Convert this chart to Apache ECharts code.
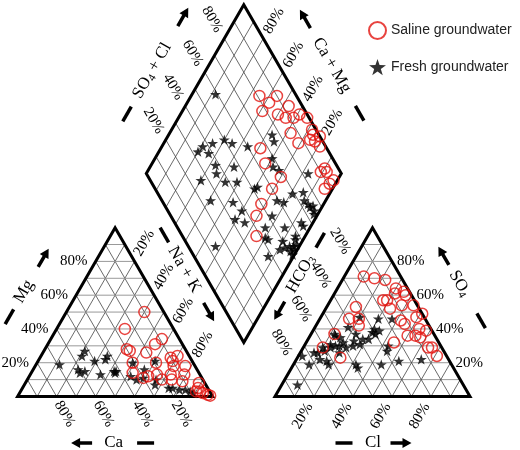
<!DOCTYPE html>
<html><head><meta charset="utf-8">
<script src="https://cdn.jsdelivr.net/npm/echarts@6/dist/echarts.min.js"></script>
<style>html,body{margin:0;padding:0;background:#fff}#c{width:520px;height:450px}</style>
</head><body><div id="c"></div>
<script>
// ---------------- data ----------------
const tickPercents = [20, 40, 60, 80];
const legendNames = ['Saline groundwater', 'Fresh groundwater'];
// cation triangle: [Ca %, Mg %]  (Na + K = remainder)
const cationSaline = [[10,50],[25,40],[9,34],[14,31],[30,28],[29,27],[21,26],[6,24],[10,23],[31,20],[19,20],[10,21],[11,18],[5,18],[34,14],[30,11],[27,12],[22,13],[21,10],[15,13],[8,13],[16,10],[11,9],[3,8],[5,5],[5,3],[4,2],[2,1],[1,0.5],[7,3]];
const cationFresh = [[69,19],[55,24],[52,27],[61,16],[58,15],[61,14],[50,21],[42,24],[44,22],[51,13],[43,15],[42,15],[43,14],[36,12],[27,16],[31,20],[30,11],[26,7],[19,21],[20,5],[18,5],[15,4],[12,4],[10,3],[9,2],[24,10],[34,10]];
// anion triangle: [Cl %, SO4 %]  (HCO3 = remainder)
const anionSaline = [[10,71],[16,70],[22,69],[30,64],[35,62],[31,61],[37,60],[27,57],[29,57],[33,52],[38,54],[44,54],[15,53],[51,49],[49,47],[20,46],[15,46],[22,42],[42,45],[45,43],[54,40],[58,39],[50,36],[54,36],[57,35],[12,37],[45,32],[64,29],[66,29],[71,24],[10,29],[22,23]];
const anionFresh = [[20,47],[30,46],[37,46],[31,40],[34,39],[31,38],[33,37],[17,41],[23,37],[28,34],[24,33],[31,34],[13,36],[16,35],[13,31],[16,30],[18,30],[22,29],[25,30],[28,31],[14,29],[12,27],[9,26],[7,26],[12,22],[16,21],[18,19],[8,19],[2,24],[32,19],[34,17],[45,19],[44,27],[43,30],[53,21],[64,22],[8,7],[20,26],[19,32],[12,37],[10,29]];
// diamond: [SO4 + Cl %, Ca + Mg %]
const diamondSaline = [[81,65],[84,58],[90,56],[78,59],[85,50],[93,47],[88,45],[92,41],[96,39],[99,34],[86,38],[98,28],[97,26],[100,22],[94,26],[96,23],[97,19],[87,31],[66,49],[64,42],[68,30],[60,31],[93,10],[90,11],[93,8],[94,2],[91,3],[87,4],[50,32],[44,31],[38,25]];
const diamondFresh = [[59,88],[76,47],[75,44],[50,70],[53,65],[60,56],[37,79],[43,75],[33,80],[38,74],[38,67],[36,64],[47,57],[69,40],[67,37],[69,33],[26,70],[38,57],[44,51],[83,17],[51,40],[53,39],[25,59],[36,47],[59,25],[62,21],[69,19],[75,14],[73,11],[74,8],[76,5],[75,3],[38,40],[32,41],[36,35],[52,23],[65,6],[65,4],[55,13],[45,23],[14,43],[74,2],[74,6],[42,20],[43,18],[50,10],[58,5],[57,4],[46,9],[49,7],[52,5],[54,3],[56,2],[53,2],[51,3],[51,1],[38,13]];

// ---------------- geometry ----------------
const K = Math.sqrt(3) / 2;
const GAP = 32;            // gap between triangles (units, side = 100)
const S = 1.95;            // px per unit
const X0 = 17.6, YBASE = 396.5;
const XMAX = 200 + GAP, YMAX = (200 + GAP) * K;

const catXY = ([ca, mg]) => [100 - ca - mg + mg / 2, mg * K];
const anXY = ([cl, so4]) => [100 + GAP + cl + so4 / 2, so4 * K];
const diaXY = ([s, c]) => [100 + GAP / 2 + 0.5 * (s - c), GAP * K + K * (s + c)];

const SERIF = '"Liberation Serif", "Times New Roman", serif';
const RED = '#e2140f';

function starPath() {
  const pts = [];
  for (let i = 0; i < 10; i++) {
    const r = i % 2 === 0 ? 50 : 19.5;
    const a = -Math.PI / 2 + i * Math.PI / 5;
    pts.push((50 + r * Math.cos(a)).toFixed(2) + ',' + (50 + r * Math.sin(a)).toFixed(2));
  }
  return 'path://M' + pts.join('L') + 'Z';
}

function renderDecor(params, api) {
  const P = d => api.coord(d);
  const ch = [];
  const seg = (a, b, stroke, w) => {
    const p = P(a), q = P(b);
    ch.push({ type: 'line', shape: { x1: p[0], y1: p[1], x2: q[0], y2: q[1] }, style: { stroke, lineWidth: w } });
  };
  const DARK = '#444', LIGHT = '#999';
  for (let i = 1; i <= 9; i++) {
    const p = i * 10;
    // cation
    seg(catXY([100 - p, p]), catXY([0, p]), LIGHT, 1);
    seg(catXY([p, 0]), catXY([p, 100 - p]), DARK, 0.8);
    seg(catXY([100 - p, 0]), catXY([0, 100 - p]), DARK, 0.8);
    // anion
    seg(anXY([0, p]), anXY([100 - p, p]), LIGHT, 1);
    seg(anXY([p, 0]), anXY([p, 100 - p]), DARK, 0.8);
    seg(anXY([100 - p, 0]), anXY([0, 100 - p]), DARK, 0.8);
    // diamond
    seg(diaXY([p, 0]), diaXY([p, 100]), DARK, 0.8);
    seg(diaXY([0, p]), diaXY([100, p]), DARK, 0.8);
  }
  const poly = pts => ch.push({ type: 'polygon', shape: { points: pts.map(P) },
    style: { fill: 'none', stroke: '#000', lineWidth: 3, lineJoin: 'miter', miterLimit: 10 } });
  poly([catXY([100, 0]), catXY([0, 0]), catXY([0, 100])]);
  poly([anXY([0, 0]), anXY([100, 0]), anXY([0, 100])]);
  poly([diaXY([0, 0]), diaXY([100, 0]), diaXY([100, 100]), diaXY([0, 100])]);

  const text = (x, y, str, rot, size, align, rich) => {
    ch.push({ type: 'text', x, y, rotation: rot,
      style: { text: str, rich: rich, fontSize: size, fontFamily: SERIF, fill: '#000',
        align: align, verticalAlign: 'middle', textAlign: align, textVerticalAlign: 'middle' } });
  };
  const R60 = Math.PI / 3;
  const tick = (anchor, dx, dy, p, rot, align) => {
    const q = P(anchor);
    text(q[0] + dx, q[1] + dy, p + '%', rot, 15, align || 'center');
  };
  tickPercents.forEach(p => {
    tick(catXY([100 - p, p]), -8, 0, p, 0, 'right');          // Mg
    tick(catXY([p, 0]), 8, 17.4, p, -R60);                    // Ca
    tick(catXY([0, 100 - p]), 9.7, -18.2, p, R60);            // Na + K
    tick(anXY([0, 100 - p]), -12.9, -20.2, p, -R60);          // HCO3
    tick(anXY([100 - p, p]), 5, 0, p, 0, 'left');             // SO4
    tick(anXY([p, 0]), -11.4, 19.5, p, R60);                  // Cl
    tick(diaXY([p, 100]), -12.2, -19.1, p, -R60);             // SO4 + Cl
    tick(diaXY([100, p]), 10.7, -17.5, p, R60);               // Ca + Mg
  });

  const rich = { a: { fontSize: 17, fontFamily: SERIF, fill: '#000' },
                 s: { fontSize: 11, fontFamily: SERIF, fill: '#000', verticalAlign: 'bottom', padding: [0, 0, -1, 0] } };
  const title = (A, B, sign, dashT, textT, arrowT, d, str, rot) => {
    const a = P(A), b = P(B);
    let ux = b[0] - a[0], uy = b[1] - a[1];
    const L = Math.hypot(ux, uy); ux /= L; uy /= L;
    const nx = sign * uy, ny = -sign * ux;
    const at = (t, dd) => [a[0] + ux * t + nx * dd, a[1] + uy * t + ny * dd];
    const c1 = at(dashT, d);
    ch.push({ type: 'line', shape: { x1: c1[0] - ux * 8.5, y1: c1[1] - uy * 8.5, x2: c1[0] + ux * 8.5, y2: c1[1] + uy * 8.5 },
      style: { stroke: '#000', lineWidth: 3.5, lineCap: 'butt' } });
    const c2 = at(textT, d);
    text(c2[0], c2[1], str, rot, 17, 'center', rich);
    const c3 = at(arrowT, d);
    const len = 21, hl = 9, hw = 10, sw = 3.5;
    const px = -uy, py = ux;
    const tail = [c3[0] - ux * len / 2, c3[1] - uy * len / 2];
    const tip = [c3[0] + ux * len / 2, c3[1] + uy * len / 2];
    const hb = [tip[0] - ux * hl, tip[1] - uy * hl];
    ch.push({ type: 'polygon', shape: { points: [
      [tail[0] + px * sw / 2, tail[1] + py * sw / 2],
      [hb[0] + px * sw / 2, hb[1] + py * sw / 2],
      [hb[0] + px * hw / 2, hb[1] + py * hw / 2],
      tip,
      [hb[0] - px * hw / 2, hb[1] - py * hw / 2],
      [hb[0] - px * sw / 2, hb[1] - py * sw / 2],
      [tail[0] - px * sw / 2, tail[1] - py * sw / 2]] }, style: { fill: '#000' } });
  };
  title(catXY([100, 0]), catXY([0, 100]), 1, 65, 94, 133, 47, '{a|Mg}', R60);
  title(catXY([0, 100]), catXY([0, 0]), 1, 31, 71, 120, 39, '{a|Na + K}', -R60);
  title(catXY([0, 0]), catXY([100, 0]), 1, 67, 99, 131, 46.5, '{a|Ca}', 0);
  title(anXY([0, 0]), anXY([100, 0]), -1, 69, 98, 126, 46.5, '{a|Cl}', 0);
  title(anXY([0, 100]), anXY([0, 0]), -1, 37, 76, 118.5, 39, '{a|HCO}{s|3}', R60);
  title(anXY([100, 0]), anXY([0, 100]), -1, 60, 103, 135, 47.5, '{a|SO}{s|4}', -R60);
  title(diaXY([0, 100]), diaXY([100, 100]), 1, 42, 92, 154, 46.5, '{a|SO}{s|4}{a| + Cl}', R60);
  title(diaXY([100, 0]), diaXY([100, 100]), -1, 43, 98.5, 152, 46, '{a|Ca + Mg}', -R60);

  return { type: 'group', children: ch };
}

const chart = echarts.init(document.getElementById('c'), null, { renderer: 'canvas' });
chart.setOption({
  animation: false,
  backgroundColor: '#fff',
  grid: { left: X0, top: YBASE - YMAX * S, width: XMAX * S, height: YMAX * S },
  xAxis: { type: 'value', min: 0, max: XMAX, show: false },
  yAxis: { type: 'value', min: 0, max: YMAX, show: false },
  legend: {
    orient: 'vertical', left: 363, top: 16, itemWidth: 17, itemHeight: 17, itemGap: 19,
    selectedMode: false, data: legendNames,
    textStyle: { fontFamily: '"Liberation Sans", Arial, sans-serif', fontSize: 14, color: '#222' }
  },
  series: [
    { type: 'custom', silent: true, clip: false, z: 1, data: [0], renderItem: renderDecor },
    { type: 'scatter', name: legendNames[1], z: 2, clip: false, symbol: starPath(), symbolSize: 11, symbolKeepAspect: true,
      itemStyle: { color: '#000' },
      data: [...cationFresh.map(catXY), ...anionFresh.map(anXY), ...diamondFresh.map(diaXY)] },
    { type: 'scatter', name: legendNames[0], z: 3, clip: false, symbol: 'circle', symbolSize: 11,
      itemStyle: { color: 'rgba(0,0,0,0)', borderColor: RED, borderWidth: 1.5 },
      data: [...cationSaline.map(catXY), ...anionSaline.map(anXY), ...diamondSaline.map(diaXY)] }
  ]
});
</script></body></html>
